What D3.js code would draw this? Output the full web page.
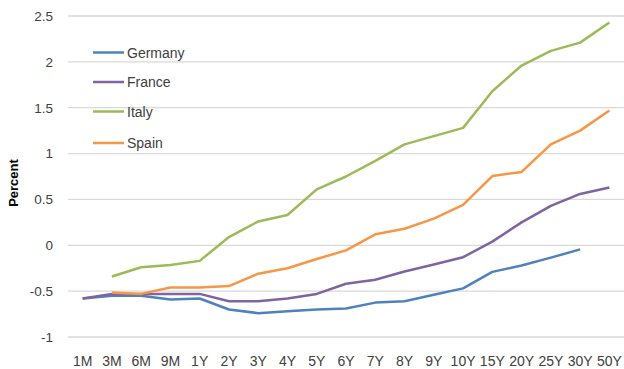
<!DOCTYPE html>
<html><head><meta charset="utf-8">
<script src="https://cdn.jsdelivr.net/npm/d3@7"></script>
<style>
body{margin:0;background:#fff;}
svg{display:block;font-family:"Liberation Sans",Arial,sans-serif;}
</style></head>
<body><svg id="c" width="624" height="369"></svg>
<script>
const categories = ["1M","3M","6M","9M","1Y","2Y","3Y","4Y","5Y","6Y","7Y","8Y","9Y","10Y","15Y","20Y","25Y","30Y","50Y"];
const germany = [-0.58,-0.55,-0.55,-0.59,-0.58,-0.70,-0.74,-0.72,-0.70,-0.69,-0.625,-0.61,-0.54,-0.47,-0.29,-0.22,-0.135,-0.045,null];
const france  = [-0.58,-0.53,-0.53,-0.53,-0.53,-0.61,-0.61,-0.58,-0.53,-0.42,-0.375,-0.285,-0.21,-0.13,0.04,0.25,0.43,0.56,0.63];
const italy   = [null,-0.34,-0.24,-0.215,-0.17,0.09,0.26,0.33,0.61,0.75,0.92,1.10,1.19,1.28,1.68,1.96,2.12,2.21,2.43];
const spain   = [null,-0.515,-0.53,-0.46,-0.46,-0.445,-0.31,-0.25,-0.15,-0.055,0.12,0.18,0.29,0.44,0.755,0.80,1.10,1.25,1.47];
const seriesNames = ["Germany","France","Italy","Spain"];
const seriesColors = ["#4F81BD","#8064A2","#9BBB59","#F79646"];
const yTicks = [-1,-0.5,0,0.5,1,1.5,2,2.5];
const yTickLabels = ["-1","-0.5","0","0.5","1","1.5","2","2.5"];

const series = [germany, france, italy, spain];
const svg = d3.select("#c");
const x = d3.scaleBand().domain(categories).range([68,624]);
const y = d3.scaleLinear().domain([-1,2.5]).range([337,16]);
const cx = d => x(d) + x.bandwidth()/2;

// gridlines
svg.append("g").selectAll("line").data(yTicks).join("line")
  .attr("x1",68).attr("x2",624)
  .attr("y1",d=>y(d)).attr("y2",d=>y(d))
  .attr("stroke","#d9d9d9").attr("stroke-width",1.3);

// y axis labels
const yAxis = d3.axisLeft(y).tickValues(yTicks).tickFormat((d,i)=>yTickLabels[i]).tickSize(0).tickPadding(0);
const ya = svg.append("g").attr("transform","translate(53,0)").call(yAxis);
ya.select(".domain").remove();
ya.selectAll("text").attr("font-size",13.5).attr("fill","#404040").attr("font-family","'Liberation Sans',Arial,sans-serif");

// x axis labels
const xAxis = d3.axisBottom(x).tickSize(0).tickPadding(0);
const xa = svg.append("g").attr("transform","translate(0,356)").call(xAxis);
xa.select(".domain").remove();
xa.selectAll("text").attr("font-size",14).attr("fill","#404040").attr("dy","0.71em").attr("font-family","'Liberation Sans',Arial,sans-serif");

// y title
svg.append("text").attr("transform","translate(18,183) rotate(-90)")
  .attr("text-anchor","middle").attr("font-size",13).attr("font-weight","bold")
  .attr("fill","#000").text("Percent");

// lines
const line = d3.line().defined(d=>d.v!==null).x(d=>cx(d.c)).y(d=>y(d.v));
series.forEach((s,i)=>{
  const pts = categories.map((c,j)=>({c:c,v:s[j]}));
  svg.append("path").attr("d",line(pts)).attr("fill","none")
    .attr("stroke",seriesColors[i]).attr("stroke-width",2.5).attr("stroke-linejoin","round");
});

// legend
const legY = [52.5,82,111.5,143];
seriesNames.forEach((n,i)=>{
  svg.append("line").attr("x1",93).attr("x2",124).attr("y1",legY[i]).attr("y2",legY[i])
    .attr("stroke",seriesColors[i]).attr("stroke-width",2.5);
  svg.append("text").attr("x",127).attr("y",legY[i]+5).attr("font-size",14)
    .attr("fill","#404040").text(n);
});
</script></body></html>
